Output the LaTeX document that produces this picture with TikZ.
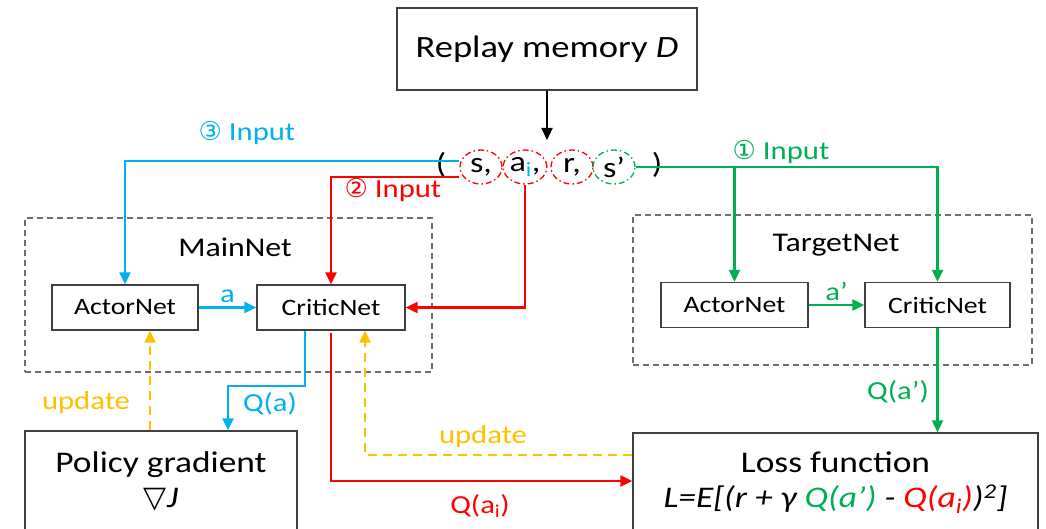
\documentclass[tikz,border=0pt]{standalone}
\usepackage{fontspec}
\setmainfont{Carlito}[FakeStretch=1.18]
\newfontfamily\symfont{DejaVu Sans}
\usetikzlibrary{arrows.meta,shapes.geometric}
\definecolor{cblue}{RGB}{0,176,240}
\definecolor{cred}{RGB}{255,0,0}
\definecolor{cgreen}{RGB}{0,176,80}
\definecolor{cyellow}{RGB}{255,192,0}
\definecolor{cgray}{RGB}{110,110,110}
\newcommand{\setfs}[1]{\fontsize{#1}{#1}\selectfont}

\begin{document}
\begin{tikzpicture}[x=1pt,y=-1pt,
  box/.style={draw=black!75,line width=1.4pt,fill=white,inner sep=0pt},
  net/.style={box,minimum height=45pt,font=\setfs{23.5}},
  dbox/.style={draw=cgray,line width=1.5pt,dash pattern=on 6pt off 4pt,inner sep=0pt},
  ell/.style={ellipse,draw=cred,line width=1.3pt,dash pattern=on 6pt off 3pt on 1.5pt off 3pt,minimum width=42pt,minimum height=34pt,inner sep=0pt,font=\setfs{29}},
  link/.style={line width=2.3pt,-{Triangle[length=12pt,width=11pt]}},
  upd/.style={link,cyellow,dash pattern=on 9pt off 6pt},
  lbl/.style={font=\setfs{26}},
]
\useasboundingbox (0,0) rectangle (1046,529);

% replay memory and sampled tuple
\node[box,minimum width=300pt,minimum height=82pt,font=\setfs{31}] (replay) at (547,49) {Replay memory \textit{D}};
\coordinate (tup) at (547,140);
\draw[link] (replay.south) -- (tup);
\node[font=\setfs{29}] (lp) at (441,165) {(};
\node[ell] (s) at (481,167) {s,};
\node[ell] (ai) at (525,167) {a\textsubscript{\color{cblue}i},};
\node[ell] (r) at (572,167) {r,};
\node[ell,draw=cgreen] (sp) at (614,167) {s’};
\node[font=\setfs{29}] (rp) at (657,165) {)};

% main net
\node[dbox,minimum width=407pt,minimum height=154pt] (main) at (228.5,295) {};
\node[font=\setfs{27}] (mainlbl) at (235,247) {MainNet};
\node[net,minimum width=146pt] (actor1) at (125,307.5) {ActorNet};
\node[net,minimum width=148pt] (critic1) at (331,307.5) {CriticNet};

% target net
\node[dbox,minimum width=399pt,minimum height=150pt] (target) at (832.5,290) {};
\node[font=\setfs{27}] (targetlbl) at (836,245) {TargetNet};
\node[net,minimum width=147pt] (actor2) at (734.5,305) {ActorNet};
\node[net,minimum width=145pt] (critic2) at (937.5,305) {CriticNet};

% bottom boxes
\node[box,minimum width=272pt,minimum height=100pt,align=center,font=\setfs{30}] (policy) at (161,481)
  {Policy gradient\\[5pt]{\symfont ▽}\textit{J}};
\node[box,minimum width=405pt,minimum height=100pt,align=center,font=\setfs{30}] (loss) at (835.5,483)
  {Loss function\\[5pt]\textit{L=E[(r + γ \textcolor{cgreen}{Q(a’)} - \textcolor{cred}{Q(a\textsubscript{i})})\textsuperscript{2}]}};

% inputs
\draw[link,cblue] ([yshift=6pt]s.west) -| (actor1.north);
\draw[link,cred] ([yshift=-10pt]s.west) -| (critic1.north);
\draw[link,cred] (ai.south) |- (critic1.east);
\draw[link,cgreen] (sp.east) -| (critic2.north);
\draw[link,cgreen] (sp.east -| actor2.north) -- (actor2.north);
\node[lbl,text=cblue] (in3) at (247,133) {{\symfont ③} Input};
\node[lbl,text=cred] (in2) at (393,190) {{\symfont ②} Input};
\node[lbl,text=cgreen] (in1) at (781,152) {{\symfont ①} Input};

% inside the nets
\draw[link,cblue] (actor1) -- (critic1) node[midway,above,lbl] {a};
\draw[link,cgreen] (actor2) -- (critic2) node[midway,above,lbl] {a’};

% outputs and updates
\draw[link,cgreen] (critic2) -- (critic2 |- loss.north);
\node[lbl,text=cgreen] (qa2) at (898,392) {Q(a’)};
\draw[link,cblue] ([xshift=-26pt]critic1.south) -- ++(0,55) -| ([xshift=67pt]policy.north);
\node[lbl,text=cblue] (qa) at (270,404) {Q(a)};
\draw[upd] ([xshift=-11pt]policy.north) -- ([xshift=-11pt]policy.north |- actor1.south);
\node[lbl,text=cyellow] (upd1) at (86,403) {update};
\draw[link,cred] ([yshift=-2pt]critic1.south) |- ([yshift=2pt]loss.west);
\node[lbl,text=cred] (qai) at (480,506) {Q(a\textsubscript{i})};
\draw[upd] ([yshift=28pt]loss.west) -| ([xshift=34pt]critic1.south);
\node[lbl,text=cyellow] (upd2) at (483,437) {update};
\end{tikzpicture}
\end{document}
